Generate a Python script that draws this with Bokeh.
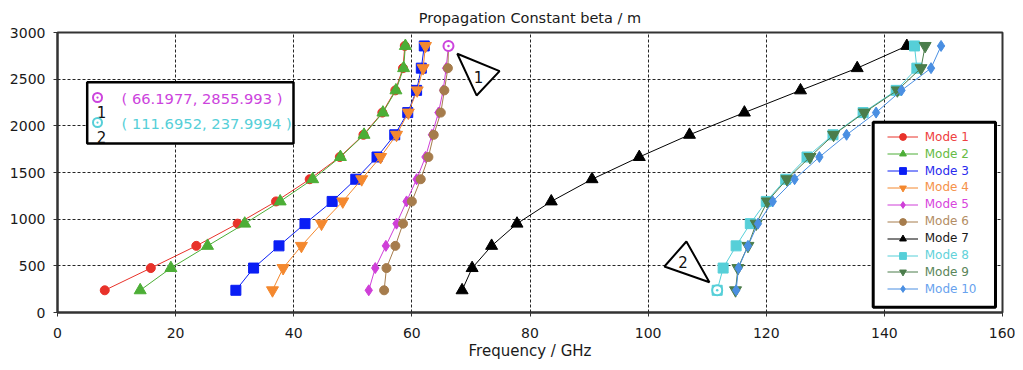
from bokeh.plotting import figure
from bokeh.models import (Range1d, FixedTicker, Legend, LegendItem, BoxAnnotation,
                          Label, ColumnDataSource)
from bokeh.embed import file_html
from bokeh.resources import INLINE

# ---------------- data ----------------
beta = [237.9994, 475.999, 713.998, 951.998, 1189.997, 1427.997,
        1665.996, 1903.995, 2141.995, 2379.994, 2617.994, 2855.993]

mode1 = [8.0, 15.8, 23.5, 30.5, 37.0, 42.7, 47.8, 51.8, 55.0, 57.2, 58.5, 58.8]
mode2 = [14.0, 19.2, 25.4, 31.7, 37.7, 43.2, 47.9, 51.9, 55.1, 57.3, 58.6, 58.9]
mode3 = [30.2, 33.2, 37.5, 41.9, 46.5, 50.5, 54.1, 57.1, 59.3, 60.8, 61.6, 62.1]
mode4 = [36.4, 38.2, 41.3, 44.7, 48.3, 51.5, 54.7, 57.4, 59.4, 60.9, 61.9, 62.3]
mode5 = [52.7, 53.8, 55.6, 57.4, 59.1, 60.8, 62.3, 63.4, 64.5, 65.3, 65.8, 66.1977]
mode6 = [55.3, 55.7, 57.2, 58.5, 60.0, 61.5, 62.8, 63.7, 64.9, 65.5, 66.1, 66.2]
mode7 = [68.5, 70.2, 73.5, 77.8, 83.6, 90.5, 98.5, 107.0, 116.3, 125.8, 135.4, 143.8]
mode8 = [111.6952, 112.7, 114.9, 117.3, 120.0, 123.3, 126.9, 131.3, 136.4, 142.0, 145.5, 145.1]
mode9 = [114.8, 115.2, 116.9, 118.3, 120.2, 123.5, 127.4, 131.4, 136.6, 142.2, 146.2, 146.9]
mode10 = [114.9, 115.3, 116.9, 118.6, 121.1, 124.8, 129.0, 133.6, 138.6, 142.9, 147.9, 149.6]

mode_names = ["Mode 1", "Mode 2", "Mode 3", "Mode 4", "Mode 5",
              "Mode 6", "Mode 7", "Mode 8", "Mode 9", "Mode 10"]
mode_values = [mode1, mode2, mode3, mode4, mode5, mode6, mode7, mode8, mode9, mode10]

marker_ids = ["1", "2"]
marker_freq = [66.1977, 111.6952]
marker_beta = [2855.993, 237.9994]

xticks = [0, 20, 40, 60, 80, 100, 120, 140, 160]
yticks = [0, 500, 1000, 1500, 2000, 2500, 3000]

# ---------------- styles ----------------
marker_types = ["circle", "triangle", "square", "inverted_triangle", "diamond",
                "circle", "triangle", "square", "inverted_triangle", "diamond"]
marker_sizes = [9, 12, 10, 12, 11, 9, 12, 10, 12, 11]
line_colors = ["#e8322a", "#4cae36", "#0a1ef5", "#f4882e", "#cf3fd8",
               "#a67c4c", "#000000", "#56cfd8", "#4b7d4b", "#4a8fe2"]
text_colors = ["#ee4040", "#66bb44", "#2a2aee", "#f5924a", "#d845dd",
               "#b38d64", "#1a1a1a", "#62d2da", "#5a865a", "#68a2ee"]
marker_colors = ["#cc44dd", "#56cfd8"]

FONT = "DejaVu Sans"
FW, FH = 945.0, 280.0          # frame size in px
XR, YR = 160.0, 3000.0

p = figure(width=1015, height=362, x_range=Range1d(0, 160), y_range=Range1d(0, 3000),
           output_backend="svg", toolbar_location=None,
           min_border_left=57, min_border_right=13, min_border_top=32, min_border_bottom=50,
           title="Propagation Constant beta / m")
p.title.align = "center"
p.title.text_font = FONT
p.title.text_font_size = "14.5px"
p.title.text_font_style = "normal"
p.title.text_color = "#1a1a1a"
p.title.standoff = 14

p.background_fill_color = "white"
p.border_fill_color = "white"
p.outline_line_color = "#333333"
p.outline_line_width = 2

p.xaxis.ticker = FixedTicker(ticks=xticks)
p.yaxis.ticker = FixedTicker(ticks=yticks)
p.xaxis.axis_label = "Frequency / GHz"
for ax in (p.xaxis[0], p.yaxis[0]):
    ax.major_label_text_font = FONT
    ax.major_label_text_font_size = "14px"
    ax.major_label_text_color = "#1a1a1a"
    ax.major_tick_out = 4
    ax.major_tick_in = 0
    ax.minor_tick_out = 0
    ax.minor_tick_in = 0
    ax.axis_line_color = "#333333"
    ax.axis_line_width = 2
    ax.major_tick_line_color = "#333333"
p.xaxis.major_label_standoff = 11
p.yaxis.major_label_standoff = 8
p.xaxis.axis_label_text_font = FONT
p.xaxis.axis_label_text_font_size = "15px"
p.xaxis.axis_label_text_font_style = "normal"
p.xaxis.axis_label_text_color = "#1a1a1a"
p.xaxis.axis_label_standoff = 1

for g in (p.xgrid[0], p.ygrid[0]):
    g.grid_line_color = "#000000"
    g.grid_line_dash = "3 2"
    g.grid_line_width = 1
    g.grid_line_alpha = 0.85

# ---------------- data series ----------------
renderers = []
for i, xs in enumerate(mode_values):
    src = ColumnDataSource(dict(x=xs, y=beta))
    rl = p.line("x", "y", source=src, line_color=line_colors[i], line_width=1)
    rs = p.scatter("x", "y", source=src, marker=marker_types[i], size=marker_sizes[i],
                   fill_color=line_colors[i], line_color=line_colors[i])
    renderers.append((rl, rs))

# ---------------- curve markers ----------------
msrc = ColumnDataSource(dict(x=marker_freq, y=marker_beta, c=marker_colors))
p.scatter("x", "y", source=msrc, marker="circle_dot", size=10, fill_color="white",
          line_color="c", line_width=2)

# pointer triangles (pixel offsets from the marker points, converted to data units)
tri_offsets = [[(8.8, -7.8), (51.1, -25.2), (28.1, -49.5)],
               [(-30.8, 48.8), (-52.8, 23.8), (-7.8, 8.1)]]
label_offsets = [(30.1, -31.5), (-34.1, 28.1)]
for i in range(2):
    txs = [marker_freq[i] + dx * XR / FW for dx, dy in tri_offsets[i]]
    tys = [marker_beta[i] + dy * YR / FH for dx, dy in tri_offsets[i]]
    p.patch(txs, tys, fill_color="white", line_color="black", line_width=2)
    p.add_layout(Label(x=marker_freq[i], y=marker_beta[i],
                       x_offset=label_offsets[i][0], y_offset=label_offsets[i][1],
                       text=marker_ids[i], text_align="center", text_baseline="middle",
                       text_font=FONT, text_font_size="15px", text_color="#111111"))

# ---------------- marker readout box ----------------
p.add_layout(BoxAnnotation(left=29.7, right=236.0, top=230.3, bottom=169.0,
                           left_units="screen", right_units="screen",
                           top_units="screen", bottom_units="screen",
                           fill_color="white", fill_alpha=1.0,
                           line_color="black", line_width=2.5, line_alpha=1.0))
icon_y = [215.0, 190.0]
for i in range(2):
    p.scatter([40.0 * XR / FW], [icon_y[i] * YR / FH], marker="circle_dot", size=9,
              fill_color="white", line_color=marker_colors[i], line_width=2, level="overlay")
    p.add_layout(Label(x=44, y=icon_y[i] - 14, x_units="screen", y_units="screen",
                       text=marker_ids[i], text_align="center", text_baseline="middle",
                       text_font=FONT, text_font_size="15px", text_color="#111111"))
    p.add_layout(Label(x=64, y=icon_y[i] - 1, x_units="screen", y_units="screen",
                       text="( %s, %s )" % (marker_freq[i], marker_beta[i]),
                       text_align="left", text_baseline="middle",
                       text_font=FONT, text_font_size="14.7px", text_color=marker_colors[i]))

# ---------------- legend ----------------
p.add_layout(BoxAnnotation(left=815.7, right=938.0, top=190.3, bottom=5.3,
                           left_units="screen", right_units="screen",
                           top_units="screen", bottom_units="screen",
                           fill_color="white", fill_alpha=1.0,
                           line_color="black", line_width=3, line_alpha=1.0))
for i, name in enumerate(mode_names):
    rl, rs = renderers[i]
    lg = Legend(items=[LegendItem(label=name, renderers=[rl, rs])],
                location=(829.7, 166.8 - i * 16.9),
                border_line_alpha=0, background_fill_alpha=0,
                padding=0, margin=0, spacing=0,
                glyph_width=31, glyph_height=17, label_height=17, label_standoff=7,
                label_text_font=FONT, label_text_font_size="12px",
                label_text_color=text_colors[i])
    p.add_layout(lg)

open("out.html", "w").write(file_html(p, INLINE))
